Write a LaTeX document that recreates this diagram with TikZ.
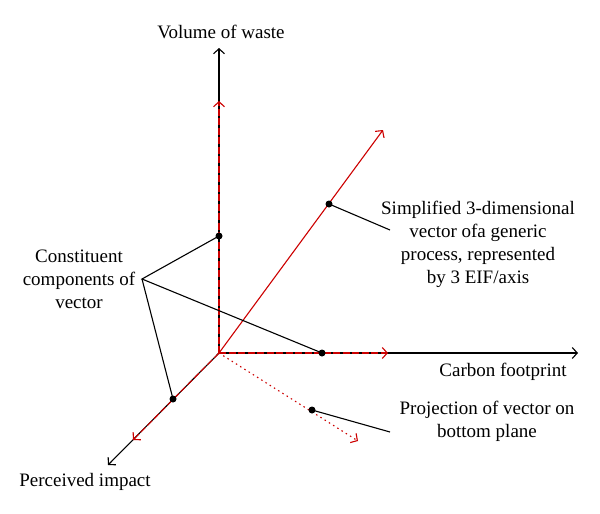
\documentclass[tikz,border=0pt]{standalone}
\usepackage{fontspec}
\setmainfont{Liberation Serif}
\usepackage{tikz}
\usetikzlibrary{arrows.meta,positioning}

\begin{document}
\begin{tikzpicture}[x=1pt, y=-1pt, >={Straight Barb[length=5pt,width=11pt]},
		font=\fontsize{19}{23}\selectfont,
		axis/.style={->, line width=1.1pt},
		comp/.style={->, red!80!black, line width=1.1pt},
		dot/.style={circle, fill, inner sep=0pt, minimum size=7pt},
		lead/.style={line width=1.1pt}]
		\useasboundingbox (0,0) rectangle (600,514);
		
		% axes
		\coordinate (O) at (219,353);
		\coordinate (ytip) at (219,48);
		\coordinate (xtip) at (578,353);
		\coordinate (ztip) at (108,465);
		\draw[axis] (O) -- (ytip);
		\draw[axis] (O) -- (xtip);
		\draw[axis] (O) -- (ztip);
		
		% components and vector
		\coordinate (ycomp) at (219,101);
		\coordinate (xcomp) at (388,353);
		\coordinate (zcomp) at (133,440);
		\coordinate (vtip) at (383,130);
		\coordinate (ptip) at (358,441);
		\draw[comp, dash pattern=on 7pt off 2.5pt] (O) -- (ycomp);
		\draw[comp, dash pattern=on 7pt off 2.5pt] (O) -- (xcomp);
		\draw[comp, dash pattern=on 7pt off 2.5pt] (O) -- (zcomp);
		\draw[comp] (O) -- (vtip);
		\draw[comp, dash pattern=on 1.5pt off 3.5pt] (O) -- (ptip);
		
		\node[dot] (dy) at (219,236) {};
		\node[dot] (dx) at (322,353) {};
		\node[dot] (dz) at (173,399) {};
		\node[dot] (dv) at (329,204) {};
		\node[dot] (dp) at (312,410) {};
		
		% labels
		\node (ylab) at (221,32) {Volume of waste};
		\node (xlab) at (503,372) {Carbon footprint};
		\node (zlab) at (85,482) {Perceived impact};
		\node[align=center] (conlab) at (79,279) {Constituent\\components of\\vector};
		\node[align=center] (veclab) at (478,244) {Simplified 3-dimensional\\vector ofa generic\\process, represented\\by 3 EIF/axis};
		\node[align=center] (prolab) at (487,421) {Projection of vector on\\bottom plane};
		
		% leader lines
		\coordinate (con) at (142,279);
		\coordinate (vecend) at (390,230);
		\coordinate (proend) at (390,432);
		\draw[lead] (dy.center) -- (con) -- (dx.center);
		\draw[lead] (con) -- (dz.center);
		\draw[lead] (dv.center) -- (vecend);
		\draw[lead] (dp.center) -- (proend);
	\end{tikzpicture}
\end{document}
